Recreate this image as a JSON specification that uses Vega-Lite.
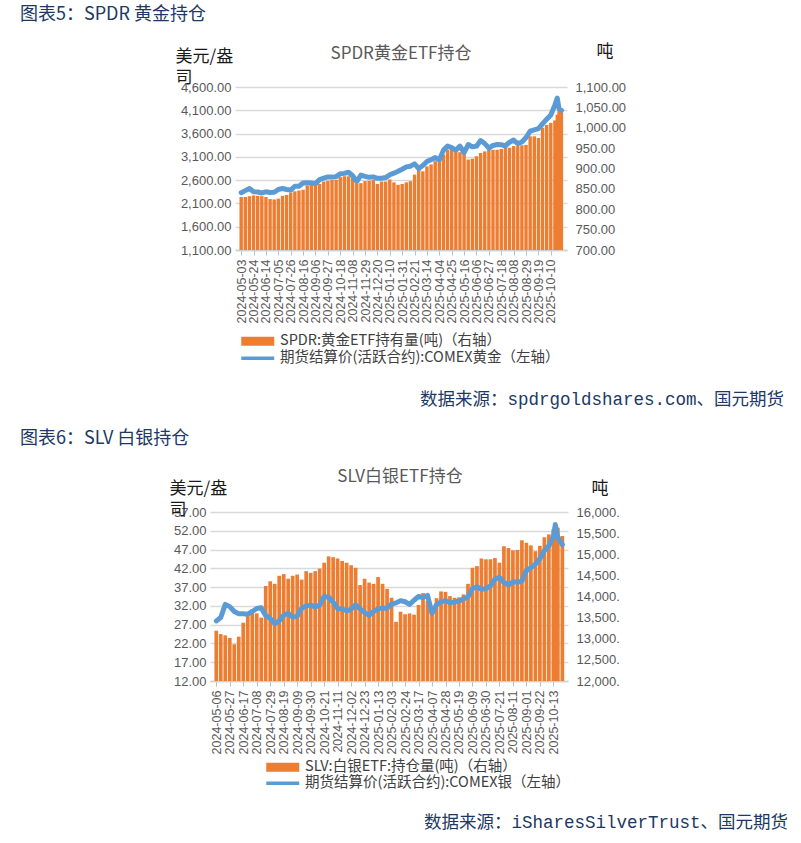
{
  "$schema": "https://vega.github.io/schema/vega-lite/v6.json",
  "background": "white",
  "padding": {"left": 20, "top": 6, "right": 0, "bottom": 0},
  "config": {
    "view": {"stroke": null},
    "font": "Noto Sans CJK SC",
    "axis": {"labelFont": "Liberation Sans", "labelFontSize": 13, "labelColor": "#595959", "titleFont": "Noto Sans CJK SC", "titleFontSize": 17, "titleFontWeight": "normal", "titleColor": "#1a1a1a", "domain": false, "ticks": false, "grid": false},
    "legend": {"padding": 0, "labelFont": "Noto Sans CJK SC", "labelFontSize": 14.5, "labelColor": "#404040", "labelLimit": 400}
  },
  "datasets": {
    "gold": [
      {"date": "2024-05-03", "p": 2330, "h": 830},
      {"date": "2024-05-10", "p": 2375, "h": 830},
      {"date": "2024-05-17", "p": 2420, "h": 832},
      {"date": "2024-05-24", "p": 2350, "h": 834},
      {"date": "2024-05-31", "p": 2345, "h": 833},
      {"date": "2024-06-07", "p": 2325, "h": 832},
      {"date": "2024-06-14", "p": 2350, "h": 830},
      {"date": "2024-06-21", "p": 2335, "h": 825},
      {"date": "2024-06-28", "p": 2340, "h": 824},
      {"date": "2024-07-05", "p": 2400, "h": 826},
      {"date": "2024-07-12", "p": 2420, "h": 833},
      {"date": "2024-07-19", "p": 2400, "h": 835},
      {"date": "2024-07-26", "p": 2385, "h": 841},
      {"date": "2024-08-02", "p": 2470, "h": 844},
      {"date": "2024-08-09", "p": 2470, "h": 846},
      {"date": "2024-08-16", "p": 2540, "h": 848},
      {"date": "2024-08-23", "p": 2545, "h": 858},
      {"date": "2024-08-30", "p": 2540, "h": 860},
      {"date": "2024-09-06", "p": 2525, "h": 860},
      {"date": "2024-09-13", "p": 2610, "h": 862},
      {"date": "2024-09-20", "p": 2645, "h": 868},
      {"date": "2024-09-27", "p": 2670, "h": 870},
      {"date": "2024-10-04", "p": 2665, "h": 872},
      {"date": "2024-10-11", "p": 2675, "h": 872},
      {"date": "2024-10-18", "p": 2735, "h": 879},
      {"date": "2024-10-25", "p": 2745, "h": 881},
      {"date": "2024-11-01", "p": 2770, "h": 881},
      {"date": "2024-11-08", "p": 2695, "h": 877},
      {"date": "2024-11-15", "p": 2570, "h": 862},
      {"date": "2024-11-22", "p": 2710, "h": 864},
      {"date": "2024-11-29", "p": 2680, "h": 869},
      {"date": "2024-12-06", "p": 2660, "h": 870},
      {"date": "2024-12-13", "p": 2670, "h": 872},
      {"date": "2024-12-20", "p": 2640, "h": 862},
      {"date": "2024-12-27", "p": 2640, "h": 868},
      {"date": "2025-01-03", "p": 2655, "h": 868},
      {"date": "2025-01-10", "p": 2715, "h": 873},
      {"date": "2025-01-17", "p": 2750, "h": 866},
      {"date": "2025-01-24", "p": 2790, "h": 860},
      {"date": "2025-01-31", "p": 2835, "h": 862},
      {"date": "2025-02-07", "p": 2885, "h": 866},
      {"date": "2025-02-14", "p": 2900, "h": 869},
      {"date": "2025-02-21", "p": 2950, "h": 885},
      {"date": "2025-02-28", "p": 2850, "h": 897},
      {"date": "2025-03-07", "p": 2915, "h": 893},
      {"date": "2025-03-14", "p": 3000, "h": 905},
      {"date": "2025-03-21", "p": 3040, "h": 910},
      {"date": "2025-03-28", "p": 3085, "h": 918},
      {"date": "2025-04-04", "p": 3035, "h": 925},
      {"date": "2025-04-11", "p": 3245, "h": 934},
      {"date": "2025-04-18", "p": 3330, "h": 946},
      {"date": "2025-04-25", "p": 3300, "h": 954},
      {"date": "2025-05-02", "p": 3245, "h": 945},
      {"date": "2025-05-09", "p": 3330, "h": 940},
      {"date": "2025-05-16", "p": 3190, "h": 938},
      {"date": "2025-05-23", "p": 3365, "h": 922},
      {"date": "2025-05-30", "p": 3315, "h": 924},
      {"date": "2025-06-06", "p": 3330, "h": 930},
      {"date": "2025-06-13", "p": 3450, "h": 938},
      {"date": "2025-06-20", "p": 3385, "h": 942},
      {"date": "2025-06-27", "p": 3290, "h": 946},
      {"date": "2025-07-04", "p": 3345, "h": 946},
      {"date": "2025-07-11", "p": 3365, "h": 946},
      {"date": "2025-07-18", "p": 3360, "h": 948},
      {"date": "2025-07-25", "p": 3335, "h": 955},
      {"date": "2025-08-01", "p": 3415, "h": 951},
      {"date": "2025-08-08", "p": 3460, "h": 955},
      {"date": "2025-08-15", "p": 3385, "h": 955},
      {"date": "2025-08-22", "p": 3420, "h": 957},
      {"date": "2025-08-29", "p": 3515, "h": 958},
      {"date": "2025-09-05", "p": 3650, "h": 979},
      {"date": "2025-09-12", "p": 3680, "h": 979},
      {"date": "2025-09-19", "p": 3705, "h": 975},
      {"date": "2025-09-26", "p": 3810, "h": 1000},
      {"date": "2025-10-03", "p": 3910, "h": 1007},
      {"date": "2025-10-10", "p": 4000, "h": 1012},
      {"date": "2025-10-17", "p": 4215, "h": 1018},
      {"date": "2025-10-21", "p": 4360, "h": 1032},
      {"date": "2025-10-24", "p": 4135, "h": 1048},
      {"date": "2025-10-28", "p": 4100, "h": 1045}
    ],
    "silver": [
      {"date": "2024-05-06", "p": 28.0, "h": 13190},
      {"date": "2024-05-13", "p": 28.9, "h": 13110},
      {"date": "2024-05-20", "p": 32.4, "h": 13080},
      {"date": "2024-05-27", "p": 31.8, "h": 13020},
      {"date": "2024-06-03", "p": 30.5, "h": 12870},
      {"date": "2024-06-10", "p": 29.9, "h": 13050},
      {"date": "2024-06-17", "p": 29.9, "h": 13380},
      {"date": "2024-06-24", "p": 29.8, "h": 13560},
      {"date": "2024-07-01", "p": 30.5, "h": 13690},
      {"date": "2024-07-08", "p": 31.3, "h": 13600},
      {"date": "2024-07-15", "p": 31.5, "h": 13500},
      {"date": "2024-07-22", "p": 29.4, "h": 14250},
      {"date": "2024-07-29", "p": 28.7, "h": 14360},
      {"date": "2024-08-05", "p": 27.3, "h": 14300},
      {"date": "2024-08-12", "p": 28.0, "h": 14490},
      {"date": "2024-08-19", "p": 29.5, "h": 14530},
      {"date": "2024-08-26", "p": 30.0, "h": 14420},
      {"date": "2024-09-02", "p": 29.0, "h": 14490},
      {"date": "2024-09-09", "p": 29.2, "h": 14520},
      {"date": "2024-09-16", "p": 31.4, "h": 14400},
      {"date": "2024-09-23", "p": 32.0, "h": 14600},
      {"date": "2024-09-30", "p": 32.2, "h": 14560},
      {"date": "2024-10-07", "p": 31.7, "h": 14600},
      {"date": "2024-10-14", "p": 32.2, "h": 14660},
      {"date": "2024-10-21", "p": 34.5, "h": 14800},
      {"date": "2024-10-28", "p": 34.3, "h": 14950},
      {"date": "2024-11-04", "p": 33.0, "h": 14930},
      {"date": "2024-11-11", "p": 31.3, "h": 14900},
      {"date": "2024-11-18", "p": 31.2, "h": 14840},
      {"date": "2024-11-25", "p": 30.7, "h": 14800},
      {"date": "2024-12-02", "p": 31.1, "h": 14740},
      {"date": "2024-12-09", "p": 32.3, "h": 14680},
      {"date": "2024-12-16", "p": 31.2, "h": 14270},
      {"date": "2024-12-23", "p": 30.2, "h": 14420},
      {"date": "2024-12-30", "p": 29.5, "h": 14330},
      {"date": "2025-01-06", "p": 30.5, "h": 14300},
      {"date": "2025-01-13", "p": 31.2, "h": 14460},
      {"date": "2025-01-20", "p": 31.4, "h": 14300},
      {"date": "2025-01-27", "p": 31.4, "h": 14180},
      {"date": "2025-02-03", "p": 32.5, "h": 13970},
      {"date": "2025-02-10", "p": 32.8, "h": 13400},
      {"date": "2025-02-17", "p": 33.4, "h": 13640},
      {"date": "2025-02-24", "p": 33.1, "h": 13580},
      {"date": "2025-03-03", "p": 32.4, "h": 13600},
      {"date": "2025-03-10", "p": 33.5, "h": 13570},
      {"date": "2025-03-17", "p": 34.5, "h": 13800},
      {"date": "2025-03-24", "p": 34.2, "h": 14080},
      {"date": "2025-03-31", "p": 34.8, "h": 13900},
      {"date": "2025-04-07", "p": 30.0, "h": 13730},
      {"date": "2025-04-14", "p": 32.3, "h": 13960},
      {"date": "2025-04-21", "p": 33.1, "h": 14120},
      {"date": "2025-04-28", "p": 33.4, "h": 14110},
      {"date": "2025-05-05", "p": 32.8, "h": 14010},
      {"date": "2025-05-12", "p": 33.0, "h": 13970},
      {"date": "2025-05-19", "p": 33.3, "h": 13980},
      {"date": "2025-05-26", "p": 33.8, "h": 14050},
      {"date": "2025-06-02", "p": 34.4, "h": 14300},
      {"date": "2025-06-09", "p": 36.6, "h": 14680},
      {"date": "2025-06-16", "p": 37.1, "h": 14720},
      {"date": "2025-06-23", "p": 36.4, "h": 14900},
      {"date": "2025-06-30", "p": 36.6, "h": 14880},
      {"date": "2025-07-07", "p": 37.3, "h": 14880},
      {"date": "2025-07-14", "p": 39.1, "h": 14910},
      {"date": "2025-07-21", "p": 39.6, "h": 14800},
      {"date": "2025-07-28", "p": 38.2, "h": 15190},
      {"date": "2025-08-04", "p": 37.6, "h": 15150},
      {"date": "2025-08-11", "p": 38.4, "h": 15090},
      {"date": "2025-08-18", "p": 38.3, "h": 15100},
      {"date": "2025-08-25", "p": 38.6, "h": 15330},
      {"date": "2025-09-01", "p": 41.4, "h": 15270},
      {"date": "2025-09-08", "p": 42.2, "h": 15210},
      {"date": "2025-09-15", "p": 43.1, "h": 15070},
      {"date": "2025-09-22", "p": 44.6, "h": 15200},
      {"date": "2025-09-29", "p": 46.7, "h": 15400},
      {"date": "2025-10-06", "p": 48.0, "h": 15470},
      {"date": "2025-10-13", "p": 50.4, "h": 15600},
      {"date": "2025-10-16", "p": 53.6, "h": 15750},
      {"date": "2025-10-20", "p": 50.2, "h": 15630},
      {"date": "2025-10-27", "p": 48.3, "h": 15430}
    ]
  },
  "spacing": 21,
  "resolve": {"scale": {"color": "independent"}, "legend": {"color": "independent"}},
  "vconcat": [
    {
      "title": {"text": "图表5：SPDR 黄金持仓", "anchor": "start", "frame": "bounds", "font": "Noto Sans CJK SC", "fontSize": 18, "fontWeight": "normal", "color": "#203864", "offset": 18},
      "resolve": {"scale": {"color": "independent"}, "legend": {"color": "independent"}},
      "vconcat": [
        {
          "title": {"text": "数据来源：spdrgoldshares.com、国元期货", "orient": "bottom", "anchor": "end", "frame": "bounds", "font": "Liberation Mono, Noto Sans CJK SC", "fontSize": 17.5, "fontWeight": "normal", "color": "#203864", "offset": 26},
          "spacing": 0,
          "resolve": {"scale": {"color": "independent"}, "legend": {"color": "independent"}},
          "hconcat": [
            {"width": 155, "height": 1, "data": {"values": [{}]}, "mark": {"type": "point", "opacity": 0}, "encoding": {}},
            {
              "width": 332,
              "height": 163,
              "title": {"text": "SPDR黄金ETF持仓", "anchor": "middle", "frame": "group", "font": "Noto Sans CJK SC", "fontSize": 17, "fontWeight": "normal", "color": "#595959", "offset": 0, "dy": 21},
              "data": {"name": "gold"},
              "encoding": {
                "x": {
                  "field": "date", "type": "temporal",
                  "scale": {"type": "utc", "domain": [{"year": 2024, "month": 5, "date": 1, "utc": true}, {"year": 2025, "month": 10, "date": 29, "utc": true}]},
                  "axis": {
                    "title": null, "format": "%Y-%m-%d", "labelAngle": 270, "labelFontSize": 12.5, "labelPadding": 4, "labelOverlap": false, "labelFlush": false, "labelBound": false,
                    "ticks": true, "tickSize": 5, "tickColor": "#BFBFBF", "tickWidth": 1, "domain": true, "domainColor": "#D0D0D0", "domainWidth": 1.5,
                    "values": [
                      {"year": 2024, "month": 5, "date": 3, "utc": true},
                      {"year": 2024, "month": 5, "date": 24, "utc": true},
                      {"year": 2024, "month": 6, "date": 14, "utc": true},
                      {"year": 2024, "month": 7, "date": 5, "utc": true},
                      {"year": 2024, "month": 7, "date": 26, "utc": true},
                      {"year": 2024, "month": 8, "date": 16, "utc": true},
                      {"year": 2024, "month": 9, "date": 6, "utc": true},
                      {"year": 2024, "month": 9, "date": 27, "utc": true},
                      {"year": 2024, "month": 10, "date": 18, "utc": true},
                      {"year": 2024, "month": 11, "date": 8, "utc": true},
                      {"year": 2024, "month": 11, "date": 29, "utc": true},
                      {"year": 2024, "month": 12, "date": 20, "utc": true},
                      {"year": 2025, "month": 1, "date": 10, "utc": true},
                      {"year": 2025, "month": 1, "date": 31, "utc": true},
                      {"year": 2025, "month": 2, "date": 21, "utc": true},
                      {"year": 2025, "month": 3, "date": 14, "utc": true},
                      {"year": 2025, "month": 4, "date": 4, "utc": true},
                      {"year": 2025, "month": 4, "date": 25, "utc": true},
                      {"year": 2025, "month": 5, "date": 16, "utc": true},
                      {"year": 2025, "month": 6, "date": 6, "utc": true},
                      {"year": 2025, "month": 6, "date": 27, "utc": true},
                      {"year": 2025, "month": 7, "date": 18, "utc": true},
                      {"year": 2025, "month": 8, "date": 8, "utc": true},
                      {"year": 2025, "month": 8, "date": 29, "utc": true},
                      {"year": 2025, "month": 9, "date": 19, "utc": true},
                      {"year": 2025, "month": 10, "date": 10, "utc": true}
                    ]
                  }
                }
              },
              "layer": [
                {
                  "mark": {"type": "bar", "width": 3.4},
                  "encoding": {
                    "y": {"field": "h", "type": "quantitative", "scale": {"domain": [700, 1100], "nice": false, "zero": false},
                      "axis": {"orient": "right", "values": [700, 750, 800, 850, 900, 950, 1000, 1050, 1100], "format": ",.2f", "labelPadding": 8, "title": "吨", "titleAngle": 0, "titleAlign": "left", "titleBaseline": "top", "titleX": 29, "titleY": -44}},
                    "y2": {"datum": 700},
                    "color": {"datum": "SPDR:黄金ETF持有量(吨)（右轴）", "type": "nominal",
                      "scale": {"domain": ["SPDR:黄金ETF持有量(吨)（右轴）", "期货结算价(活跃合约):COMEX黄金（左轴）"], "range": ["#ED7D31", "#5B9BD5"]},
                      "legend": {"orient": "none", "legendX": 5, "legendY": 247, "direction": "vertical", "title": null, "symbolSize": 144, "symbolOffset": 10.5, "labelOffset": 15, "rowPadding": 2,
                        "encode": {"symbols": {"update": {
                          "shape": {"signal": "indexof(datum.label, '左轴') >= 0 ? 'M-2.75,-0.3L2.75,-0.3L2.75,0.3L-2.75,0.3Z' : 'M-2.75,-0.75L2.75,-0.75L2.75,0.75L-2.75,0.75Z'"},
                          "fill": {"signal": "indexof(datum.label, '左轴') >= 0 ? '#5B9BD5' : '#ED7D31'"},
                          "stroke": {"value": "transparent"}, "strokeWidth": {"value": 0}, "opacity": {"value": 1}, "fillOpacity": {"value": 1}}}}}}
                  }
                },
                {
                  "mark": {"type": "line", "strokeWidth": 5, "strokeJoin": "round", "strokeCap": "round"},
                  "encoding": {
                    "y": {"field": "p", "type": "quantitative", "scale": {"domain": [1100, 4600], "nice": false, "zero": false},
                      "axis": {"orient": "left", "values": [1100, 1600, 2100, 2600, 3100, 3600, 4100, 4600], "format": ",.2f", "labelPadding": 4, "grid": true, "gridColor": "#D9D9D9", "gridWidth": 1.5,
                        "title": ["美元/盎", "司"], "titleAngle": 0, "titleAlign": "left", "titleBaseline": "top", "titleX": -60, "titleY": -39, "titleLineHeight": 21}},
                    "color": {"datum": "期货结算价(活跃合约):COMEX黄金（左轴）", "type": "nominal"}
                  }
                }
              ],
              "resolve": {"scale": {"y": "independent"}}
            },
            {"width": 158, "height": 1, "data": {"values": [{}]}, "mark": {"type": "point", "opacity": 0}, "encoding": {}}
          ]
        }
      ]
    },
    {
      "title": {"text": "图表6：SLV 白银持仓", "anchor": "start", "frame": "bounds", "font": "Noto Sans CJK SC", "fontSize": 18, "fontWeight": "normal", "color": "#203864", "offset": 20},
      "resolve": {"scale": {"color": "independent"}, "legend": {"color": "independent"}},
      "vconcat": [
        {
          "title": {"text": "数据来源：iSharesSilverTrust、国元期货", "orient": "bottom", "anchor": "end", "frame": "bounds", "font": "Liberation Mono, Noto Sans CJK SC", "fontSize": 17.5, "fontWeight": "normal", "color": "#203864", "offset": 24},
          "spacing": 0,
          "resolve": {"scale": {"color": "independent"}, "legend": {"color": "independent"}},
          "hconcat": [
            {"width": 149, "height": 1, "data": {"values": [{}]}, "mark": {"type": "point", "opacity": 0}, "encoding": {}},
            {
              "width": 358,
              "height": 169,
              "title": {"text": "SLV白银ETF持仓", "anchor": "middle", "frame": "group", "font": "Noto Sans CJK SC", "fontSize": 17, "fontWeight": "normal", "color": "#595959", "offset": 0, "dx": 11, "dy": 7},
              "data": {"name": "silver"},
              "encoding": {
                "x": {
                  "field": "date", "type": "temporal",
                  "scale": {"type": "utc", "domain": [{"year": 2024, "month": 5, "date": 4, "utc": true}, {"year": 2025, "month": 10, "date": 28, "utc": true}]},
                  "axis": {
                    "title": null, "format": "%Y-%m-%d", "labelAngle": 270, "labelFontSize": 12.5, "labelPadding": 4, "labelOverlap": false, "labelFlush": false, "labelBound": false,
                    "ticks": true, "tickSize": 5, "tickColor": "#BFBFBF", "tickWidth": 1, "domain": true, "domainColor": "#D0D0D0", "domainWidth": 1.5,
                    "values": [
                      {"year": 2024, "month": 5, "date": 6, "utc": true},
                      {"year": 2024, "month": 5, "date": 27, "utc": true},
                      {"year": 2024, "month": 6, "date": 17, "utc": true},
                      {"year": 2024, "month": 7, "date": 8, "utc": true},
                      {"year": 2024, "month": 7, "date": 29, "utc": true},
                      {"year": 2024, "month": 8, "date": 19, "utc": true},
                      {"year": 2024, "month": 9, "date": 9, "utc": true},
                      {"year": 2024, "month": 9, "date": 30, "utc": true},
                      {"year": 2024, "month": 10, "date": 21, "utc": true},
                      {"year": 2024, "month": 11, "date": 11, "utc": true},
                      {"year": 2024, "month": 12, "date": 2, "utc": true},
                      {"year": 2024, "month": 12, "date": 23, "utc": true},
                      {"year": 2025, "month": 1, "date": 13, "utc": true},
                      {"year": 2025, "month": 2, "date": 3, "utc": true},
                      {"year": 2025, "month": 2, "date": 24, "utc": true},
                      {"year": 2025, "month": 3, "date": 17, "utc": true},
                      {"year": 2025, "month": 4, "date": 7, "utc": true},
                      {"year": 2025, "month": 4, "date": 28, "utc": true},
                      {"year": 2025, "month": 5, "date": 19, "utc": true},
                      {"year": 2025, "month": 6, "date": 9, "utc": true},
                      {"year": 2025, "month": 6, "date": 30, "utc": true},
                      {"year": 2025, "month": 7, "date": 21, "utc": true},
                      {"year": 2025, "month": 8, "date": 11, "utc": true},
                      {"year": 2025, "month": 9, "date": 1, "utc": true},
                      {"year": 2025, "month": 9, "date": 22, "utc": true},
                      {"year": 2025, "month": 10, "date": 13, "utc": true}
                    ]
                  }
                }
              },
              "layer": [
                {
                  "mark": {"type": "bar", "width": 3.7},
                  "encoding": {
                    "y": {"field": "h", "type": "quantitative", "scale": {"domain": [12000, 16000], "nice": false, "zero": false},
                      "axis": {"orient": "right", "values": [12000, 12500, 13000, 13500, 14000, 14500, 15000, 15500, 16000], "labelExpr": "format(datum.value, ',') + '.'", "labelPadding": 8, "title": "吨", "titleAngle": 0, "titleAlign": "left", "titleBaseline": "top", "titleX": 23, "titleY": -32}},
                    "y2": {"datum": 12000},
                    "color": {"datum": "SLV:白银ETF:持仓量(吨)（右轴）", "type": "nominal",
                      "scale": {"domain": ["SLV:白银ETF:持仓量(吨)（右轴）", "期货结算价(活跃合约):COMEX银（左轴）"], "range": ["#ED7D31", "#5B9BD5"]},
                      "legend": {"orient": "none", "legendX": 55, "legendY": 248, "direction": "vertical", "title": null, "symbolSize": 144, "symbolOffset": 10.5, "labelOffset": 15, "rowPadding": 1,
                        "encode": {"symbols": {"update": {
                          "shape": {"signal": "indexof(datum.label, '左轴') >= 0 ? 'M-2.75,-0.3L2.75,-0.3L2.75,0.3L-2.75,0.3Z' : 'M-2.75,-0.75L2.75,-0.75L2.75,0.75L-2.75,0.75Z'"},
                          "fill": {"signal": "indexof(datum.label, '左轴') >= 0 ? '#5B9BD5' : '#ED7D31'"},
                          "stroke": {"value": "transparent"}, "strokeWidth": {"value": 0}, "opacity": {"value": 1}, "fillOpacity": {"value": 1}}}}}}
                  }
                },
                {
                  "mark": {"type": "line", "strokeWidth": 5, "strokeJoin": "round", "strokeCap": "round"},
                  "encoding": {
                    "y": {"field": "p", "type": "quantitative", "scale": {"domain": [12, 57], "nice": false, "zero": false},
                      "axis": {"orient": "left", "values": [12, 17, 22, 27, 32, 37, 42, 47, 52, 57], "format": ".2f", "labelPadding": 4, "grid": true, "gridColor": "#D9D9D9", "gridWidth": 1.5,
                        "title": ["美元/盎", "司"], "titleAngle": 0, "titleAlign": "left", "titleBaseline": "top", "titleX": -41, "titleY": -32, "titleLineHeight": 21}},
                    "color": {"datum": "期货结算价(活跃合约):COMEX银（左轴）", "type": "nominal"}
                  }
                }
              ],
              "resolve": {"scale": {"y": "independent"}}
            },
            {"width": 168, "height": 1, "data": {"values": [{}]}, "mark": {"type": "point", "opacity": 0}, "encoding": {}}
          ]
        }
      ]
    }
  ]
}
